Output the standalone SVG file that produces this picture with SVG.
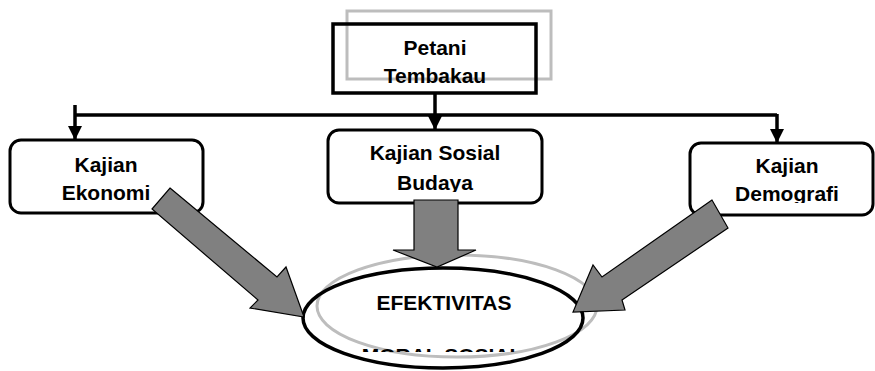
<svg xmlns="http://www.w3.org/2000/svg" width="875" height="371" viewBox="0 0 875 371">
<style>
text{font-family:"Liberation Sans",Arial,sans-serif;font-weight:bold;font-size:21px;fill:#000;text-anchor:middle}
.box{fill:#fff;stroke:#000;stroke-width:3}
.line{fill:none;stroke:#000;stroke-width:3.5}
.block{fill:#808080;stroke:#000;stroke-width:1.2;stroke-linejoin:miter}
.ghost{fill:none;stroke:#bdbdbd;stroke-width:3}
</style>
<defs>
<marker id="ah" viewBox="0 0 10 10" refX="10" refY="5" markerWidth="4" markerHeight="4" orient="auto" markerUnits="strokeWidth">
<path d="M0,0 L10,5 L0,10 z" fill="#000"/>
</marker>
<clipPath id="cMid"><rect x="328" y="130" width="214" height="62"/></clipPath>
<clipPath id="cRight"><rect x="690" y="143" width="183" height="60"/></clipPath>
<clipPath id="cEll"><rect x="300" y="260" width="300" height="92"/></clipPath>
</defs>

<g id="petani">
<rect class="ghost" x="347" y="11" width="204" height="68"/>
<rect x="333" y="24" width="203" height="69" fill="none" stroke="#000" stroke-width="3.5"/>
<text x="435" y="55">Petani</text>
<text x="435" y="83">Tembakau</text>
</g>

<g id="connectors">
<line class="line" x1="75" y1="115" x2="777" y2="115"/>
<line class="line" x1="435" y1="93" x2="435" y2="130" marker-end="url(#ah)"/>
<line class="line" x1="75" y1="105" x2="75" y2="140" marker-end="url(#ah)"/>
<line class="line" x1="777" y1="114" x2="777" y2="143" marker-end="url(#ah)"/>
</g>

<g id="ekonomi">
<rect class="box" x="10" y="140" width="193" height="73" rx="11"/>
<text x="106" y="172">Kajian</text>
<text x="106" y="200">Ekonomi</text>
</g>

<g id="sosial">
<rect class="box" x="328" y="130" width="214" height="73" rx="11"/>
<g clip-path="url(#cMid)">
<text x="435" y="160">Kajian Sosial</text>
<text x="435" y="190">Budaya</text>
</g>
</g>

<g id="demografi">
<rect class="box" x="690" y="143" width="183" height="72" rx="11"/>
<g clip-path="url(#cRight)">
<text x="787" y="173">Kajian</text>
<text x="787" y="201">Demografi</text>
</g>
</g>

<g id="efektivitas">
<ellipse class="ghost" cx="457" cy="306" rx="140" ry="51"/>
<ellipse cx="443" cy="318" rx="140" ry="50" fill="none" stroke="#000" stroke-width="3.5"/>
<text x="444" y="310">EFEKTIVITAS</text>
<g clip-path="url(#cEll)">
<text x="442" y="363">MORAL SOSIAL</text>
</g>
</g>

<g id="block-arrows">
<polygon class="block" points="170,188 277,277 286,267 304,317 250,308 258,300 152,209"/>
<polygon class="block" points="414,200 458,200 458,250 476,250 437,267 393,250 414,250"/>
<polygon class="block" points="712,200 602,277 593,265 573,312 625,310 622,300 728,228"/>
</g>
</svg>
